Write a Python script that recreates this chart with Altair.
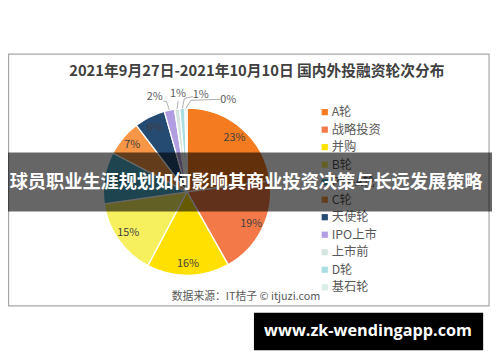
import altair as alt
import pandas as pd
import numpy as np

# ---------------- data ----------------
categories = ["A轮", "战略投资", "并购", "B轮", "Pre-A轮", "C轮", "天使轮", "IPO上市", "上市前", "D轮", "基石轮"]
values = [23, 19, 16, 15, 10, 7, 6, 2, 1, 1, 0.4]
colors = ["#F47B20", "#F37A48", "#FFE000", "#F7F05E", "#4BACC6", "#F79646",
          "#264B73", "#B09DE2", "#D5E6DF", "#A9DFE3", "#D9EEE6"]
outside_cats = ["IPO上市", "上市前", "D轮", "基石轮"]

title_text = "2021年9月27日-2021年10月10日 国内外投融资轮次分布"
banner_text = "球员职业生涯规划如何影响其商业投资决策与长远发展策略"
source_text = "数据来源：IT桔子 © itjuzi.com"
site_text = "www.zk-wendingapp.com"

# ---------------- layout ----------------
W, H = 492, 346
OX, OY = 8, 8          # page margin
CX, CY, R = 190 - OX, 192 - OY, 85
LABEL_R = 73
FONT = "Noto Sans CJK SC"

# leader layout, relative to the slice edge point: elbow, end, label centre
leader_layout = {
    "IPO上市": [(-3, -9), (-6, -9), (-15, -13)],
    "上市前": [(1, -8), (1, -8), (1, -14.5)],
    "D轮": [(2, -10), (11, -12), (18.7, -14)],
    "基石轮": [(5, -8), (35, -9), (43, -8)],
}

total = float(sum(values))
pct = [f"{round(v / total * 100):d}%" for v in values]
df = pd.DataFrame({
    "cat": categories,
    "value": values,
    "ord": list(range(len(categories))),
    "pct": pct,
})
df["in_label"] = [p if c not in outside_cats else "" for c, p in zip(categories, pct)]
df["ly"] = (111 - OY) + df["ord"] * 17.8

vals = np.array(values, dtype=float)
mid = (np.cumsum(vals) - vals / 2) / total * 2 * np.pi
edge_x = CX + R * np.sin(mid)
edge_y = CY - R * np.cos(mid)

line_rows, lab_rows = [], []
for i, c in enumerate(categories):
    if c not in leader_layout:
        continue
    el, en, lb = leader_layout[c]
    pts = [(0, 0), el, en]
    for k, (dx, dy) in enumerate(pts):
        line_rows.append({"cat": c, "pt": k, "px": edge_x[i] + dx, "py": edge_y[i] + dy})
    lab_rows.append({"cat": c, "px": edge_x[i] + lb[0], "py": edge_y[i] + lb[1], "pct": pct[i]})
lines_df = pd.DataFrame(line_rows)
labs_df = pd.DataFrame(lab_rows)

xs = alt.Scale(domain=[0, W], nice=False, zero=False)
ys = alt.Scale(domain=[0, H], nice=False, zero=False, reverse=True)
color_scale = alt.Scale(domain=categories, range=colors)
one = pd.DataFrame({"k": [0]})

# ---------------- layers ----------------
frame = alt.Chart(one).mark_rect(fillOpacity=0, stroke="#A6A6A6", strokeWidth=1.2).encode(
    x=alt.value(0.6), x2=alt.value(497 - OX), y=alt.value(52 - OY), y2=alt.value(308 - OY))

arcs = alt.Chart(df).mark_arc(radius=R, stroke="white", strokeWidth=1.3).encode(
    theta=alt.Theta("value:Q", stack=True),
    order=alt.Order("ord:Q"),
    color=alt.Color("cat:N", scale=color_scale, legend=None),
    x=alt.value(CX), y=alt.value(CY),
)

in_labels = alt.Chart(df).mark_text(radius=LABEL_R, fontSize=11, color="#404040", font=FONT).encode(
    theta=alt.Theta("value:Q", stack=True),
    order=alt.Order("ord:Q"),
    text="in_label:N",
    x=alt.value(CX), y=alt.value(CY),
)

leaders = alt.Chart(lines_df).mark_line(color="#A6A6A6", strokeWidth=0.9).encode(
    x=alt.X("px:Q", scale=xs, axis=None),
    y=alt.Y("py:Q", scale=ys, axis=None),
    detail="cat:N",
    order="pt:Q",
)

out_labels = alt.Chart(labs_df).mark_text(fontSize=11, color="#595959", font=FONT).encode(
    x=alt.X("px:Q", scale=xs, axis=None),
    y=alt.Y("py:Q", scale=ys, axis=None),
    text="pct:N",
)

legend_sym = alt.Chart(df).mark_square(size=40, opacity=1).encode(
    x=alt.value(330 - OX),
    y=alt.Y("ly:Q", scale=ys, axis=None),
    color=alt.Color("cat:N", scale=color_scale, legend=None),
)
legend_txt = alt.Chart(df).mark_text(align="left", baseline="middle", fontSize=12.5,
                                     color="#595959", font=FONT).encode(
    x=alt.value(337 - OX),
    y=alt.Y("ly:Q", scale=ys, axis=None),
    text="cat:N",
)

title = alt.Chart(one).mark_text(fontSize=15, fontWeight="bold", color="#404040", font=FONT,
                                 align="center", baseline="middle").encode(
    x=alt.value(261 - OX), y=alt.value(69 - OY), text=alt.value(title_text))

source = alt.Chart(one).mark_text(fontSize=11, color="#595959", font=FONT,
                                  align="center", baseline="middle").encode(
    x=alt.value(250 - OX), y=alt.value(299 - OY), text=alt.value(source_text))

band = alt.Chart(one).mark_rect(color="black", opacity=0.6).encode(
    x=alt.value(0), x2=alt.value(W), y=alt.value(152 - OY), y2=alt.value(212 - OY))

band_text = alt.Chart(one).mark_text(fontSize=18.5, fontWeight="bold", color="white", font=FONT,
                                     align="center", baseline="middle").encode(
    x=alt.value(250 - OX), y=alt.value(182 - OY), text=alt.value(banner_text))

site_box = alt.Chart(one).mark_rect(color="black").encode(
    x=alt.value(258 - OX), x2=alt.value(491 - OX), y=alt.value(315 - OY), y2=alt.value(353 - OY))

site_text_mark = alt.Chart(one).mark_text(fontSize=16.5, fontWeight="bold", color="white",
                                          font="Open Sans", align="center", baseline="middle").encode(
    x=alt.value(374 - OX), y=alt.value(334 - OY), text=alt.value(site_text))

chart = alt.layer(
    frame, arcs, in_labels, leaders, out_labels, legend_sym, legend_txt,
    title, source, band, band_text, site_box, site_text_mark,
).properties(
    width=W, height=H, autosize=alt.AutoSizeParams(type="none"), padding=0, background="white",
).configure_view(strokeWidth=0)

chart.save("out.html", embed_options={"renderer": "svg", "actions": False})
